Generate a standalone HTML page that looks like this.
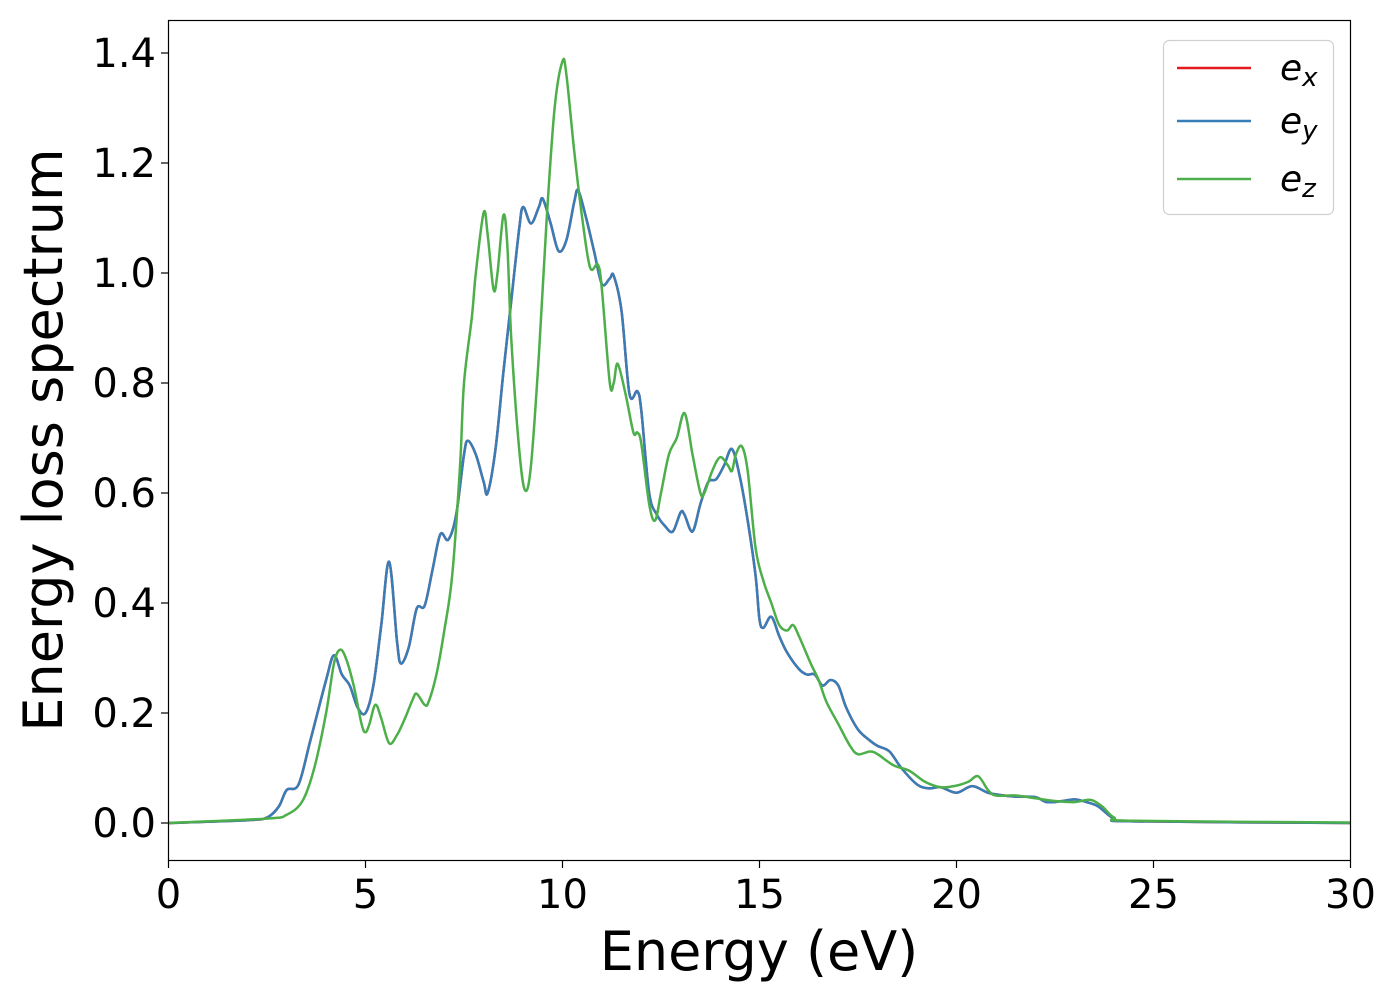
<!DOCTYPE html>
<html><head><meta charset="utf-8"><style>
body{margin:0;background:#fff;}
svg text{font-family:"DejaVu Sans","Liberation Sans",sans-serif;fill:#000;}
</style></head><body>
<svg id="chart" width="1400" height="1000" xmlns="http://www.w3.org/2000/svg">
<rect x="0" y="0" width="1400" height="1000" fill="#fff"/>
<g id="plot"></g>
<rect x="168.5" y="20.5" width="1182" height="840" fill="none" stroke="#000" stroke-width="1.2"/>
<g id="axes"></g>
<text x="759" y="970" font-size="54" text-anchor="middle">Energy (eV)</text>
<text transform="translate(62,440) rotate(-90)" font-size="54" text-anchor="middle">Energy loss spectrum</text>
<g>
<rect x="1163.5" y="40.5" width="170" height="174" rx="6" fill="#fff" stroke="#ccc" stroke-width="1.2" opacity="0.9"/>
<line x1="1177" y1="68" x2="1251" y2="68" stroke="#e41a1c" stroke-width="2.5"/>
<text x="1280" y="80" font-size="36" font-style="italic">e<tspan font-size="26" dy="6">x</tspan></text>
<line x1="1177" y1="121" x2="1251" y2="121" stroke="#377eb8" stroke-width="2.5"/>
<text x="1280" y="133" font-size="36" font-style="italic">e<tspan font-size="26" dy="6">y</tspan></text>
<line x1="1177" y1="179" x2="1251" y2="179" stroke="#4daf4a" stroke-width="2.5"/>
<text x="1280" y="191" font-size="36" font-style="italic">e<tspan font-size="26" dy="6">z</tspan></text>
</g>
</svg>
<script>
const xTicks=[0,5,10,15,20,25,30];
const yTicks=[0.0,0.2,0.4,0.6,0.8,1.0,1.2,1.4];
const eyE=[0,2,2.5,2.8,3.0,3.3,3.6,4.0,4.2,4.4,4.6,4.8,5.0,5.2,5.4,5.6,5.8,5.9,6.1,6.3,6.5,6.7,6.9,7.1,7.3,7.5,7.6,7.8,8.0,8.1,8.3,8.5,8.7,8.9,9.0,9.2,9.4,9.5,9.7,9.9,10.1,10.3,10.4,10.6,10.8,11.0,11.2,11.3,11.5,11.7,11.9,12.0,12.2,12.4,12.6,12.8,13.0,13.1,13.3,13.5,13.7,13.9,14.1,14.3,14.5,14.7,14.9,15.0,15.1,15.3,15.5,15.7,16.0,16.2,16.4,16.6,16.8,17.0,17.2,17.5,17.8,18.0,18.3,18.6,19.0,19.3,19.6,20.0,20.4,20.8,21.2,21.5,22.0,22.3,22.7,23.0,23.3,23.6,24.0,24.5,30];
const eyV=[0,0.005,0.01,0.03,0.06,0.07,0.15,0.26,0.305,0.27,0.25,0.21,0.2,0.25,0.36,0.475,0.33,0.29,0.32,0.39,0.395,0.46,0.525,0.515,0.56,0.67,0.695,0.67,0.62,0.6,0.68,0.82,0.95,1.08,1.12,1.09,1.12,1.135,1.09,1.04,1.06,1.13,1.15,1.1,1.04,0.98,0.99,0.995,0.93,0.78,0.785,0.75,0.6,0.56,0.54,0.53,0.565,0.56,0.53,0.58,0.62,0.625,0.65,0.68,0.63,0.55,0.45,0.37,0.355,0.375,0.34,0.31,0.28,0.27,0.27,0.25,0.26,0.25,0.21,0.17,0.15,0.14,0.13,0.1,0.07,0.063,0.065,0.055,0.067,0.055,0.05,0.048,0.047,0.038,0.04,0.043,0.038,0.03,0.008,0.003,0.0];
const exE=eyE.slice();
const exV=eyV.slice();
const ezE=[0,2.5,3.0,3.4,3.7,4.0,4.2,4.35,4.5,4.7,4.9,5.0,5.1,5.25,5.4,5.6,5.8,6.0,6.2,6.3,6.5,6.6,6.8,7.0,7.2,7.4,7.5,7.7,7.8,8.0,8.1,8.25,8.35,8.5,8.6,8.7,8.9,9.05,9.2,9.4,9.6,9.8,10.0,10.1,10.3,10.5,10.7,10.9,11.0,11.2,11.3,11.4,11.6,11.8,11.9,12.0,12.2,12.35,12.5,12.7,12.9,13.1,13.3,13.5,13.6,13.8,14.0,14.2,14.3,14.4,14.55,14.7,14.9,15.1,15.3,15.5,15.7,15.85,16.0,16.3,16.5,16.7,17.0,17.3,17.5,17.8,18.0,18.4,18.8,19.2,19.6,20.0,20.3,20.55,20.8,21.0,21.5,22.0,22.5,23.0,23.4,23.7,24.0,24.5,30];
const ezV=[0,0.008,0.015,0.04,0.1,0.2,0.29,0.315,0.3,0.25,0.18,0.165,0.18,0.215,0.19,0.145,0.16,0.19,0.225,0.235,0.215,0.22,0.27,0.35,0.45,0.65,0.8,0.92,1.0,1.11,1.07,0.97,1.0,1.105,1.05,0.88,0.68,0.605,0.65,0.85,1.1,1.3,1.385,1.36,1.22,1.1,1.01,1.015,0.97,0.8,0.8,0.835,0.78,0.71,0.71,0.69,0.58,0.55,0.6,0.67,0.7,0.745,0.67,0.6,0.6,0.64,0.665,0.65,0.64,0.67,0.685,0.64,0.5,0.44,0.4,0.36,0.35,0.36,0.34,0.29,0.26,0.22,0.18,0.14,0.125,0.13,0.125,0.105,0.095,0.075,0.065,0.068,0.075,0.085,0.06,0.05,0.05,0.045,0.04,0.038,0.042,0.03,0.01,0.004,0.001];

const X=v=>168.5+v*(1182/30);
const Y=v=>823-v*550;
const NS='http://www.w3.org/2000/svg';
const axes=document.getElementById('axes'), plot=document.getElementById('plot');
xTicks.forEach(t=>{
  const l=document.createElementNS(NS,'line');
  
  
  l.setAttribute('x1',X(t));l.setAttribute('x2',X(t));l.setAttribute('y1',860.5);l.setAttribute('y2',868);
  l.setAttribute('stroke','#000');l.setAttribute('stroke-width','1.2');axes.appendChild(l);
  const tx=document.createElementNS(NS,'text');
  
  
  tx.setAttribute('x',X(t));tx.setAttribute('y',908);tx.setAttribute('font-size','40');tx.setAttribute('text-anchor','middle');
  tx.textContent=t;axes.appendChild(tx);
});
yTicks.forEach(t=>{
  const l=document.createElementNS(NS,'line');
  
  
  l.setAttribute('x1',161);l.setAttribute('x2',168.5);l.setAttribute('y1',Y(t));l.setAttribute('y2',Y(t));
  l.setAttribute('stroke','#000');l.setAttribute('stroke-width','1.2');axes.appendChild(l);
  const tx=document.createElementNS(NS,'text');
  
  
  tx.setAttribute('x',156);tx.setAttribute('y',Y(t)+14);tx.setAttribute('font-size','40');tx.setAttribute('text-anchor','end');
  tx.textContent=t.toFixed(1);axes.appendChild(tx);
});
function pathFor(es,vs){
  const p=es.map((e,i)=>[X(e),Y(vs[i])]);
  let d='M'+p[0][0]+','+p[0][1];
  for(let i=0;i<p.length-1;i++){
    const p0=p[Math.max(0,i-1)],p1=p[i],p2=p[i+1],p3=p[Math.min(p.length-1,i+2)];
    const c1=[p1[0]+(p2[0]-p0[0])/6,p1[1]+(p2[1]-p0[1])/6];
    const c2=[p2[0]-(p3[0]-p1[0])/6,p2[1]-(p3[1]-p1[1])/6];
    d+=`C${c1[0].toFixed(2)},${c1[1].toFixed(2)} ${c2[0].toFixed(2)},${c2[1].toFixed(2)} ${p2[0].toFixed(2)},${p2[1].toFixed(2)}`;
  }
  return d;
}
[['series-ex',exE,exV,'#e41a1c'],['series-ey',eyE,eyV,'#377eb8'],['series-ez',ezE,ezV,'#4daf4a']].forEach(s=>{
  const pa=document.createElementNS(NS,'path');
  
  
  pa.setAttribute('d',pathFor(s[1],s[2]));
  pa.setAttribute('fill','none');pa.setAttribute('stroke',s[3]);pa.setAttribute('stroke-width','2.5');
  pa.setAttribute('stroke-linejoin','round');
  plot.appendChild(pa);
});
</script>
</body></html>
